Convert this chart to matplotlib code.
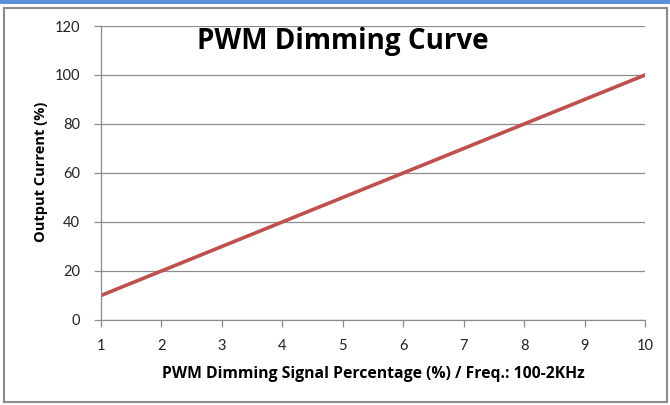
import matplotlib.pyplot as plt
from matplotlib.patches import Rectangle

# data
pwm_pct = [1, 2, 3, 4, 5, 6, 7, 8, 9, 10]
current_pct = [10, 20, 30, 40, 50, 60, 70, 80, 90, 100]
y_ticks = [0, 20, 40, 60, 80, 100, 120]

plt.rcParams['font.family'] = ['Lato', 'DejaVu Sans']

fig = plt.figure(figsize=(6.7, 4.05), dpi=100)
fig.patch.set_facecolor('white')

# blue strip on top and gray frame round the chart
fig.add_artist(Rectangle((0, 0.99), 1, 0.01, transform=fig.transFigure,
                         facecolor='#5b8fd6', edgecolor='none'))
fig.add_artist(Rectangle((0.006, 0.008), 0.99, 0.972, transform=fig.transFigure,
                         facecolor='none', edgecolor='#8a8a8a', lw=1.5))

ax = fig.add_axes([0.1507, 0.2099, 0.812, 0.7259])
ax.plot(pwm_pct, current_pct, color='#c0504d', lw=2.6, solid_capstyle='round')

ax.set_xlim(1, 10)
ax.set_ylim(0, 120)
ax.set_xticks(pwm_pct)
ax.set_yticks(y_ticks)
ax.grid(axis='y', color='#8c8c8c', lw=0.9)
ax.set_axisbelow(True)

for s in ['top', 'right']:
    ax.spines[s].set_visible(False)
for s in ['left', 'bottom']:
    ax.spines[s].set_color('#8c8c8c')
    ax.spines[s].set_linewidth(0.9)

ax.tick_params(axis='both', colors='#8c8c8c', length=5, width=0.9,
               labelcolor='#222222', labelsize=10.5)
ax.tick_params(axis='x', pad=9)
ax.tick_params(axis='y', pad=10)

ax.set_xlabel('PWM Dimming Signal Percentage (%) / Freq.: 100-2KHz',
              fontsize=11.3, fontweight='bold', family=['Open Sans', 'DejaVu Sans'])
ax.set_ylabel('Output Current (%)', fontsize=10.5, fontweight='bold',
              family=['Open Sans', 'DejaVu Sans'])
ax.xaxis.set_label_coords(0.5, -0.185)
ax.yaxis.set_label_coords(-0.110, 0.503)
ax.xaxis.label.set_va('center')
ax.yaxis.label.set_va('center')

ax.text(5.0, 110.6, 'PWM Dimming Curve', fontsize=20, fontweight='bold',
        ha='center', va='baseline', color='black',
        family=['Open Sans', 'DejaVu Sans'])

fig.savefig('out.png', dpi=100)
